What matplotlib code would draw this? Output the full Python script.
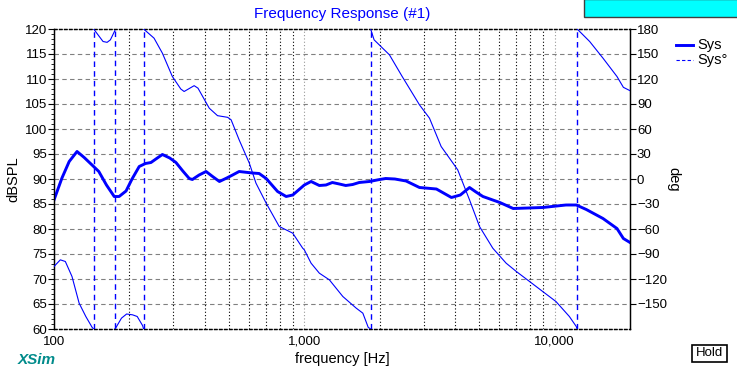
import matplotlib
matplotlib.use('Agg')
import numpy as np
import matplotlib.pyplot as plt
from matplotlib.patches import Rectangle
from matplotlib.ticker import FixedLocator, NullFormatter, MultipleLocator

plt.rcParams['font.family'] = ['Liberation Sans', 'DejaVu Sans']

# magnitude (Sys)
mag_freq = [100, 107.6, 115, 123.6, 132, 141.9, 151, 162, 174, 182, 194, 205, 219, 232,
            244, 257, 271, 290, 307, 327, 347, 357, 380, 405, 430, 458, 490, 517, 549,
            620, 660, 704, 745, 782, 846, 899, 1000, 1064, 1148, 1220, 1294, 1380, 1464,
            1560, 1656, 1820, 2000, 2114, 2300, 2550, 2884, 3370, 3870, 4200, 4570, 4850,
            5170, 6040, 6830, 8960, 11100, 12200, 13380, 15600, 17740, 18820, 20000]
mag_db = [85.8, 90.2, 93.5, 95.5, 94.3, 92.8, 91.5, 88.8, 86.5, 86.5, 87.6, 90.0, 92.5, 93.1,
          93.3, 94.1, 94.9, 94.2, 93.3, 91.6, 90.1, 89.9, 90.8, 91.5, 90.5, 89.5, 90.2, 90.8, 91.5,
          91.2, 91.1, 90.1, 88.7, 87.5, 86.5, 86.8, 88.8, 89.5, 88.7, 88.8, 89.3, 89.0, 88.7,
          88.9, 89.3, 89.5, 89.9, 90.1, 90.0, 89.6, 88.3, 88.0, 86.3, 86.8, 88.3, 87.4,
          86.5, 85.3, 84.1, 84.3, 84.8, 84.8, 83.9, 82.1, 80.1, 78.1, 77.3]

# phase (Sys°), wrapped to +-180, each wrap listed as two points at one frequency
ph_freq = [100, 106, 111, 118, 126, 134, 142, 144,
           144, 157, 163, 168, 175,
           175, 177, 186, 195, 206, 215, 226, 228,
           228, 251, 271, 297, 321, 331, 363, 376, 417, 450, 494, 510, 549, 603, 641,
           704, 794, 899, 985, 1000, 1064, 1148, 1259, 1425, 1612, 1713, 1800, 1840,
           1840, 1900, 2188, 2460, 2884, 3162, 3520, 3800, 4100, 4570, 5010, 5660, 6400,
           7030, 7940, 8960, 10120, 11450, 12200, 12300,
           12300, 13800, 15600, 17740, 18820, 20000]
ph_deg = [-105, -97, -99, -117, -149, -165, -178, -180,
          180, 165, 164, 167, 178,
          -180, -178, -167, -162, -163, -165, -176, -180,
          180, 169, 151, 123, 108, 105, 112, 109, 85, 76, 74, 71, 47, 19, -5,
          -29, -57, -65, -83, -85, -101, -113, -121, -141, -155, -161, -178, -180,
          180, 167, 149, 123, 89, 73, 39, 25, 11, -25, -57, -83, -101,
          -111, -123, -135, -147, -165, -177, -180,
          180, 165, 145, 123, 110, 106]

W, H = 737, 371
fig = plt.figure(figsize=(W / 100, H / 100), dpi=100)
fig.patch.set_facecolor('white')
ax = fig.add_axes([54 / W, 1 - 329 / H, (630 - 54) / W, 300 / H])
ax2 = ax.twinx()

blue = '#0000ff'
ax.plot(mag_freq, mag_db, color=blue, lw=2.1, zorder=5, solid_joinstyle='round')

# phase: curve parts thin solid, the wrap jumps dashed
seg_f, seg_p = [ph_freq[0]], [ph_deg[0]]
for i in range(1, len(ph_freq)):
    if ph_freq[i] == ph_freq[i - 1]:
        ax2.plot(seg_f, seg_p, color=blue, lw=0.8, zorder=5)
        ax2.plot(ph_freq[i - 1:i + 1], ph_deg[i - 1:i + 1], color=blue, lw=1.0,
                 ls=(0, (4, 3)), zorder=5)
        seg_f, seg_p = [ph_freq[i]], [ph_deg[i]]
    else:
        seg_f.append(ph_freq[i])
        seg_p.append(ph_deg[i])
ax2.plot(seg_f, seg_p, color=blue, lw=0.8, zorder=5)

ax.set_xscale('log')
ax.set_xlim(100, 20000)
ax.set_ylim(60, 120)
ax2.set_ylim(-180, 180)

# grid
for y in range(65, 120, 5):
    ax.axhline(y, color='#808080', lw=0.8, ls=(0, (4, 3)), zorder=1)
for d in [100, 1000, 10000]:
    for m in range(1, 10):
        f = d * m
        if f <= 100 or f >= 20000:
            continue
        c = '#999999' if m == 1 else 'black'
        ax.axvline(f, color=c, lw=0.8, ls=(0, (1, 2)), zorder=1)

ax.set_xticks([100, 1000, 10000])
ax.set_xticklabels(['100', '1,000', '10,000'])
ax.xaxis.set_minor_formatter(NullFormatter())
ax.tick_params(axis='x', which='both', length=0, labelsize=9.5, pad=5)

ax.yaxis.set_major_locator(MultipleLocator(5))
ax.yaxis.set_minor_locator(MultipleLocator(1))
ax.tick_params(axis='y', which='major', length=4, labelsize=9.5, pad=1)
ax.tick_params(axis='y', which='minor', length=2)

ax2.yaxis.set_major_locator(FixedLocator(list(range(-150, 181, 30))))
ax2.tick_params(axis='y', which='major', length=4, labelsize=9.5, pad=1)

for a in (ax, ax2):
    a.spines['top'].set_linestyle((0, (2, 2)))
    a.spines['bottom'].set_linestyle((0, (2, 2)))
    for s in a.spines.values():
        s.set_linewidth(0.9)

ax.set_ylabel('dBSPL', fontsize=10.5, labelpad=3)
ax2.set_ylabel('deg', fontsize=10.5, rotation=270, labelpad=10)
ax.set_xlabel('frequency [Hz]', fontsize=10.5, labelpad=3)
ax.set_title('Frequency Response (#1)', fontsize=11, color=blue, pad=8)

# legend at right
fig.lines.append(plt.Line2D([676 / W, 693 / W], [1 - 45 / H] * 2, color=blue, lw=2.1,
                            transform=fig.transFigure))
fig.lines.append(plt.Line2D([676 / W, 693 / W], [1 - 60 / H] * 2, color=blue, lw=0.8,
                            ls=(0, (3, 2)), transform=fig.transFigure))
fig.text(697 / W, 1 - 45 / H, 'Sys', fontsize=10.5, va='center')
fig.text(697 / W, 1 - 60 / H, 'Sys°', fontsize=10.5, va='center')

# cyan box top right
fig.patches.append(Rectangle((584 / W, 1 - 17 / H), 1 - 584 / W + 0.01, 18 / H,
                             facecolor='#00ffff', edgecolor='#404040', lw=1,
                             transform=fig.transFigure))

fig.text(18 / W, 1 - 360 / H, 'XSim', fontsize=11, fontweight='bold', style='italic',
         color='#008b8b', va='center')

fig.patches.append(Rectangle((692 / W, 1 - 362 / H), 35 / W, 17 / H, facecolor='white',
                             edgecolor='black', lw=1.2, transform=fig.transFigure))
fig.text(709.5 / W, 1 - 353.5 / H, 'Hold', fontsize=9.5, ha='center', va='center')

fig.savefig('out.png', dpi=100)
